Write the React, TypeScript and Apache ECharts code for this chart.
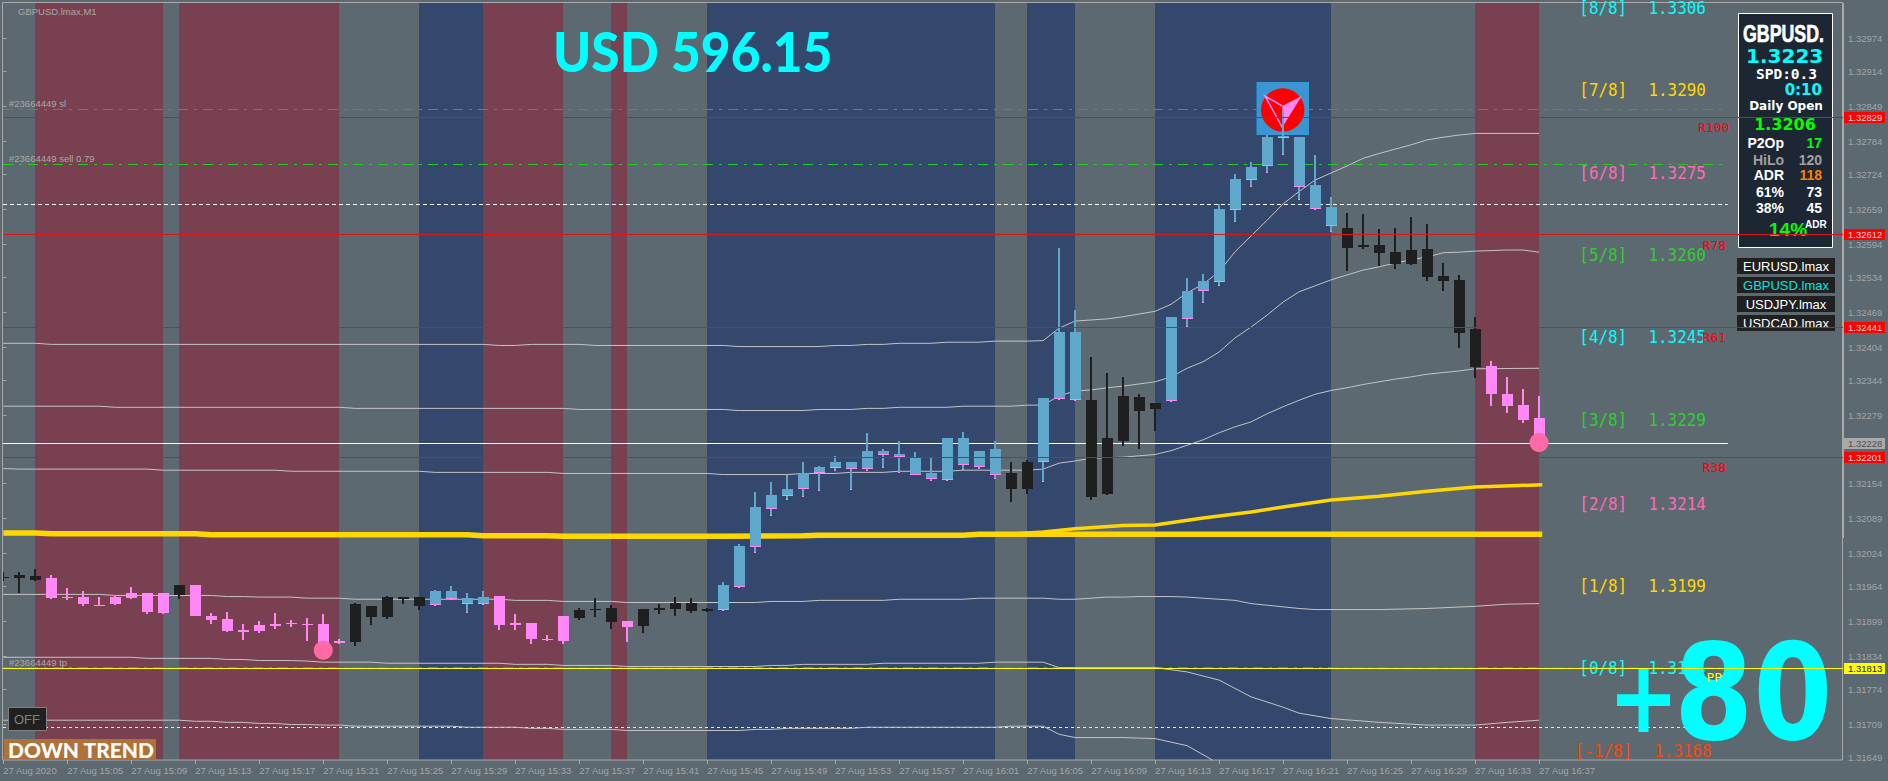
import React, { useEffect, useRef } from "react";
import * as echarts from "echarts";

const PRICE_MIN = 1.316436;
const PRICE_MAX = 1.330395;
const X_MIN = -0.02;
const X_MAX = 115;

const highs = [1.3199,1.3199,1.31995,1.31984,1.3196,1.31955,1.31944,1.31946,1.31962,1.31951,1.31951,1.31966,1.31966,1.31914,1.31916,1.31894,1.31899,1.31914,1.31901,1.31905,1.31912,1.31866,1.31934,1.31927,1.31946,1.31944,1.31944,1.31957,1.31964,1.31951,1.31955,1.31946,1.31912,1.31896,1.31875,1.3191,1.31923,1.31942,1.31929,1.31899,1.31922,1.31931,1.31944,1.31942,1.31923,1.31971,1.32041,1.32137,1.32156,1.32169,1.32194,1.32185,1.32204,1.32193,1.32246,1.32218,1.32231,1.32211,1.322,1.32237,1.32248,1.32213,1.32231,1.32193,1.32196,1.32311,1.32588,1.32473,1.32387,1.32357,1.3235,1.32318,1.32302,1.3246,1.32532,1.3254,1.32669,1.32724,1.32746,1.32796,1.32842,1.32792,1.32759,1.32682,1.32652,1.3265,1.32623,1.32625,1.32645,1.32632,1.3256,1.32538,1.3246,1.32379,1.3235,1.32328,1.32315];
const bodyTops = [1.31981,1.31984,1.31982,1.31979,1.31944,1.31944,1.3193,1.31944,1.31951,1.31951,1.31951,1.31966,1.31966,1.3191,1.31903,1.31883,1.31892,1.31894,1.31896,1.31894,1.31894,1.31863,1.31931,1.31927,1.31944,1.31944,1.31944,1.31955,1.31955,1.31942,1.31944,1.31946,1.31896,1.31896,1.31866,1.31909,1.3192,1.31922,1.31923,1.31899,1.31922,1.31923,1.31933,1.31933,1.31922,1.31966,1.32038,1.3211,1.32132,1.32143,1.32172,1.32183,1.32193,1.32193,1.32213,1.32213,1.32207,1.322,1.32172,1.32237,1.32237,1.32213,1.32217,1.32172,1.32193,1.32311,1.32433,1.32433,1.32307,1.32237,1.32315,1.32313,1.32302,1.3246,1.32508,1.32527,1.3266,1.32715,1.32737,1.32792,1.32794,1.32792,1.32704,1.32663,1.32625,1.32593,1.32593,1.3258,1.32584,1.32586,1.32536,1.32529,1.32438,1.3237,1.32318,1.32298,1.32274];
const bodyBottoms = [1.31979,1.31979,1.31975,1.31942,1.31942,1.31931,1.31929,1.31931,1.31942,1.31916,1.31914,1.31947,1.3191,1.31901,1.31881,1.3188,1.31881,1.3189,1.31894,1.31892,1.31858,1.31859,1.31861,1.31907,1.31907,1.3194,1.31927,1.31929,1.3194,1.31931,1.31931,1.31892,1.31892,1.31866,1.31864,1.31863,1.31905,1.3192,1.31898,1.31888,1.3189,1.3192,1.31922,1.31918,1.31918,1.3192,1.31962,1.32036,1.32106,1.3213,1.32143,1.32172,1.32182,1.3218,1.3218,1.32206,1.32202,1.3217,1.32161,1.32159,1.32187,1.32183,1.3217,1.32143,1.32143,1.32193,1.32309,1.32307,1.32129,1.32134,1.32232,1.32287,1.32291,1.32306,1.32457,1.32508,1.32525,1.32658,1.32713,1.32739,1.32791,1.327,1.3266,1.32628,1.32588,1.3259,1.32579,1.32558,1.32558,1.32534,1.32527,1.32431,1.32368,1.32318,1.32296,1.3227,1.32226];
const lows = [1.31973,1.31951,1.31973,1.31941,1.31939,1.31927,1.31927,1.31929,1.3194,1.31912,1.31912,1.3194,1.31909,1.31894,1.31879,1.31864,1.31877,1.31885,1.31888,1.31863,1.3184,1.31857,1.31853,1.31892,1.31903,1.31931,1.3192,1.31927,1.31938,1.31914,1.31929,1.31883,1.31883,1.31857,1.31863,1.31857,1.31901,1.31907,1.31885,1.31861,1.31877,1.31912,1.31909,1.31914,1.31916,1.31918,1.3196,1.32025,1.32093,1.32123,1.32128,1.32139,1.32176,1.32141,1.32176,1.32182,1.32172,1.32169,1.32158,1.32158,1.32178,1.3218,1.32161,1.32119,1.32135,1.32156,1.32307,1.32306,1.32123,1.32132,1.32223,1.32217,1.3225,1.32304,1.32442,1.32486,1.32518,1.32636,1.327,1.32726,1.32759,1.32676,1.32658,1.32617,1.32545,1.32586,1.32554,1.32549,1.32556,1.32527,1.32508,1.32403,1.32348,1.32296,1.32283,1.32265,1.32224];

const redZones = [[2,10],[11,21],[30,35],[38,39],[92,96]];
const blueZones = [[26,30],[44,62],[64,67],[72,83]];

const lineA = [[0,1.32412],[2,1.32412],[3,1.3241],[30,1.3241],[31,1.32408],[32,1.32408],[33,1.3241],[36,1.3241],[37,1.32408],[45,1.32408],[46,1.32406],[51,1.32406],[52,1.32408],[53,1.32408],[54,1.3241],[55,1.3241],[56,1.32412],[58,1.32412],[59,1.32414],[61,1.32414],[62,1.32416],[64,1.32416],[65,1.32417],[66,1.3244],[67,1.32453],[68,1.32455],[69,1.32457],[70,1.32461],[71,1.32466],[72,1.32471],[73,1.32484],[74,1.32505],[75,1.32521],[76,1.32544],[77,1.32581],[78,1.3261],[79,1.32639],[80,1.32669],[81,1.32692],[82,1.32713],[83,1.32726],[84,1.32739],[85,1.32753],[86,1.32762],[87,1.3277],[88,1.32778],[89,1.32787],[90,1.32792],[91,1.32796],[92,1.32799],[96,1.32799]];
const lineB = [[0,1.32296],[6,1.32296],[7,1.32294],[21,1.32294],[22,1.32292],[35,1.32292],[36,1.3229],[45,1.3229],[46,1.32288],[50,1.32288],[51,1.3229],[53,1.3229],[54,1.32292],[55,1.32292],[56,1.32294],[59,1.32294],[60,1.32296],[63,1.32296],[64,1.32298],[65,1.32298],[66,1.32315],[67,1.32324],[68,1.32326],[69,1.3233],[70,1.32333],[71,1.32337],[72,1.32341],[73,1.3235],[74,1.32366],[75,1.32378],[76,1.32396],[77,1.32422],[78,1.32442],[79,1.32464],[80,1.32488],[81,1.32507],[82,1.32518],[83,1.32529],[84,1.32538],[85,1.32547],[86,1.32553],[87,1.3256],[88,1.32566],[89,1.32571],[90,1.32579],[91,1.3258],[92,1.32582],[94,1.32584],[95,1.32584],[96,1.3258]];
const lineC = [[0,1.32181],[1,1.3218],[9,1.3218],[10,1.32178],[17,1.32178],[18,1.32176],[26,1.32176],[27,1.32174],[34,1.32174],[35,1.32172],[44,1.32172],[45,1.3217],[49,1.3217],[50,1.32172],[52,1.32172],[53,1.32174],[55,1.32174],[56,1.32176],[59,1.32176],[60,1.32178],[64,1.32178],[65,1.3218],[66,1.32191],[67,1.32195],[68,1.322],[70,1.32202],[72,1.32207],[73,1.32214],[74,1.32224],[75,1.32234],[76,1.32247],[77,1.32258],[78,1.32267],[79,1.32282],[80,1.32295],[81,1.32307],[82,1.32318],[83,1.32325],[84,1.3233],[85,1.32336],[86,1.32341],[87,1.32346],[88,1.3235],[89,1.32355],[90,1.32358],[91,1.32361],[92,1.32365],[96,1.32366]];
const lineD = [[0,1.31949],[6,1.31949],[7,1.31947],[13,1.31947],[14,1.31945],[15,1.31945],[16,1.31944],[18,1.31944],[19,1.31942],[21,1.31942],[22,1.3194],[31,1.3194],[32,1.31938],[34,1.31938],[35,1.31936],[38,1.31936],[39,1.31934],[47,1.31934],[48,1.31936],[50,1.31936],[51,1.31938],[55,1.31938],[56,1.3194],[60,1.3194],[61,1.31942],[65,1.31942],[66,1.3194],[67,1.3194],[68,1.31942],[69,1.31944],[70,1.31944],[71,1.31945],[73,1.31945],[74,1.31944],[75,1.31942],[77,1.31938],[78,1.31932],[79,1.31929],[80,1.31926],[81,1.31923],[82,1.31921],[86,1.31921],[89,1.31923],[92,1.31927],[94,1.31931],[96,1.31932]];
const lineE = [[0,1.31833],[8,1.31833],[9,1.31831],[13,1.31831],[14,1.31829],[15,1.31829],[16,1.31827],[18,1.31827],[19,1.31826],[20,1.31824],[23,1.31824],[24,1.31822],[31,1.31822],[32,1.3182],[34,1.3182],[35,1.31818],[38,1.31818],[39,1.31816],[47,1.31816],[48,1.31818],[49,1.31818],[50,1.3182],[54,1.3182],[55,1.31822],[61,1.31822],[62,1.31824],[65,1.31824],[66,1.31814],[72,1.31814],[74,1.31806],[76,1.31791],[78,1.3176],[80,1.31741],[81,1.3173],[83,1.3172],[86,1.31713],[89,1.31708],[92,1.31708],[94,1.31713],[96,1.31717]];
const lineF = [[0,1.31717],[11,1.31717],[12,1.31715],[13,1.31715],[14,1.31713],[15,1.31713],[16,1.31711],[17,1.31711],[18,1.31709],[19,1.31709],[20,1.31708],[21,1.31708],[22,1.31706],[28,1.31706],[29,1.31704],[32,1.31704],[33,1.31702],[34,1.31702],[35,1.317],[38,1.317],[39,1.31698],[46,1.31698],[47,1.317],[48,1.317],[49,1.31702],[53,1.31702],[54,1.31704],[62,1.31704],[63,1.31706],[65,1.31706],[66,1.31691],[67,1.31685],[70,1.31685],[72,1.31683],[74,1.3167],[75.5,1.31645],[76.5,1.3162]];
const maFlat = [[0,1.32062],[2,1.32062],[3,1.32061],[12,1.32061],[13,1.32059],[29,1.32059],[30,1.32057],[34,1.32057],[35,1.32056],[45,1.32056],[50,1.32057],[51,1.32058],[60,1.32058],[61,1.3206],[96.2,1.3206]];
const maRising = [[63,1.3206],[65,1.32064],[67,1.3207],[70,1.32076],[72,1.32077],[75,1.3209],[78,1.32101],[80,1.3211],[83,1.32123],[86,1.3213],[89,1.32139],[92,1.32147],[96.2,1.32151]];
const entryMarkers = [[20,1.31846],[96,1.32229]];

const priceTicks = [1.32974,1.32914,1.32849,1.32784,1.32724,1.32659,1.32594,1.32534,1.32469,1.32404,1.32344,1.32279,1.32154,1.32089,1.32024,1.31964,1.31899,1.31834,1.31774,1.31709,1.31649];
const timeTicks = [0,4,8,12,16,20,24,28,32,36,40,44,48,52,56,60,64,68,72,76,80,84,88,92,96];
const timeLabels = ["27 Aug 2020","27 Aug 15:05","27 Aug 15:09","27 Aug 15:13","27 Aug 15:17","27 Aug 15:21","27 Aug 15:25","27 Aug 15:29","27 Aug 15:33","27 Aug 15:37","27 Aug 15:41","27 Aug 15:45","27 Aug 15:49","27 Aug 15:53","27 Aug 15:57","27 Aug 16:01","27 Aug 16:05","27 Aug 16:09","27 Aug 16:13","27 Aug 16:17","27 Aug 16:21","27 Aug 16:25","27 Aug 16:29","27 Aug 16:33","27 Aug 16:37"];

const backLevelPrices = [1.32843,1.32742,1.32668,1.31815,1.31704,1.32228];
const backLevelEnds = [107.8,107.8,107.8,107.8,107.8,107.8];
const backLevelColors = ["#D9551F","#22CC22","#FFFFFF","#FF4500","#FFFF33","#FFFFFF"];
const backLevelDashes: any[] = [[10,6,3,6],[10,6,3,6],[4,3],[10,6,3,6],[3,3],null];
const frontLevelPrices = [1.32829,1.32612,1.32441,1.32201,1.31813];
const frontLevelColors = ["#D81818","#D81818","#D81818","#D81818","#FFFF00"];

const tagPrices = [1.32829,1.32612,1.32441,1.32228,1.32201,1.31813];
const tagFills = ["#FF0000","#FF0000","#FF0000","#A9A9A9","#FF0000","#FFFF00"];
const tagTexts = ["#D8D8D8","#D8D8D8","#D8D8D8","#505050","#D8D8D8","#202020"];

const fibFractions = ["[8/8]","[7/8]","[6/8]","[5/8]","[4/8]","[3/8]","[2/8]","[1/8]","[0/8]","[-1/8]"];
const fibPrices = ["1.3306","1.3290","1.3275","1.3260","1.3245","1.3229","1.3214","1.3199","1.3184","1.3168"];
const fibColors = ["#00FFFF","#FFD700","#FF69B4","#32CD32","#00FFFF","#32CD32","#FF69B4","#FFD700","#00FFFF","#FF4500"];
const fibRows = [8,89.3,172.3,255,336.7,420,503.3,585.7,667.7,750.7];

const pivotLabels = ["R100","R78","R61","R38","PP"];
const symbolButtons = ["EURUSD.lmax","GBPUSD.lmax","USDJPY.lmax","USDCAD.lmax"];

const GRAY = "#5C6971";
const RED = "#794052";
const BLUE = "#34476D";
const CANDLE_BLUE = "#5FA8CB";
const CANDLE_PINK = "#FF88F6";
const CANDLE_DARK = "#1F1F1F";

const inZones = (zones: number[][], i: number) => zones.some(([a, b]) => i > a && i <= b);

const renderBand = (fill: string) => (_p: any, api: any) => {
  const a = api.coord([api.value(0), PRICE_MAX]);
  const b = api.coord([api.value(1), PRICE_MIN]);
  const x = Math.round(a[0]);
  const y = Math.round(a[1]);
  return { type: "rect", shape: { x, y, width: Math.round(b[0]) - x, height: Math.round(b[1]) - y }, style: { fill } };
};

const renderCandle = (_p: any, api: any) => {
  const i = api.value(0);
  const yOf = (v: number) => Math.round(api.coord([i, v])[1]);
  const cx = Math.round(api.coord([i, api.value(1)])[0]);
  const yH = yOf(api.value(1));
  const yT = yOf(api.value(2));
  const yB = Math.max(yOf(api.value(3)), yT + 1);
  const yL = Math.max(yOf(api.value(4)), yB);
  const rect = (x: number, y: number, width: number, height: number, fill: string) => ({
    type: "rect", shape: { x, y, width, height }, style: { fill },
  });
  const blue = inZones(blueZones, i);
  const color = blue ? CANDLE_BLUE : inZones(redZones, i) ? CANDLE_PINK : CANDLE_DARK;
  const children: any[] = [];
  if (blue) {
    children.push(rect(cx - 1, yL - 1, 2, 1, CANDLE_PINK));
    children.push(rect(cx - 1, yH, 2, Math.max(yL - 1 - yH, 0), color));
    children.push(rect(cx - 5, yT, 11, Math.max(yB - 1 - yT, 1), color));
    children.push(rect(cx - 5, yB - 1, 11, 1, CANDLE_PINK));
  } else {
    children.push(rect(cx - 1, yH, 2, yL - yH, color));
    children.push(rect(cx - 5, yT, 11, yB - yT, color));
  }
  return { type: "group", children };
};

const renderLevel = (colors: string[], dashes: any[] | null) => (p: any, api: any) => {
  const start = api.coord([X_MIN, api.value(1)]);
  const end = api.coord([api.value(0), api.value(1)]);
  const y = Math.floor(start[1]) + 0.5;
  const dash = dashes ? dashes[p.dataIndex] : null;
  return {
    type: "line",
    shape: { x1: start[0], y1: y, x2: end[0], y2: y },
    style: { stroke: colors[p.dataIndex], lineWidth: 1, lineDash: dash || undefined, fill: null },
  };
};

const renderTag = (p: any, api: any) => {
  const c = api.coord([X_MAX, api.value(1)]);
  const y = Math.floor(c[1]) - 5;
  return {
    type: "group",
    children: [
      { type: "rect", shape: { x: 1844, y, width: 41, height: 11 }, style: { fill: tagFills[p.dataIndex] } },
      { type: "text", x: 1848, y: y + 5.5, style: { text: api.value(1).toFixed(5), fill: tagTexts[p.dataIndex], font: "9.5px 'Liberation Sans'", textAlign: "left", textVerticalAlign: "middle" } },
    ],
  };
};

const grayLine = (data: number[][]) => ({
  type: "line", data, symbol: "none", z: 3, silent: true, clip: true,
  lineStyle: { color: "#C4C4C4", width: 1 },
});

const txt = (text: string, x: number, y: number, fill: string, font: string, z: number, extra: any = {}) => {
  const { align, stroke, lineWidth, ...rest } = extra;
  return {
    type: "text", x, y, z, silent: true, ...rest,
    style: {
      text, fill, font, textAlign: align || "left", textVerticalAlign: "middle",
      ...(stroke ? { stroke, lineWidth } : {}),
    },
  };
};

const buildGraphics = () => {
  const els: any[] = [];
  const sans = "'Liberation Sans'";
  const dejavu = "'DejaVu Sans'";
  const mono = "'DejaVu Sans Mono'";
  // frame and thick scale bar
  els.push({ type: "rect", z: 2, silent: true, shape: { x: 2.5, y: 2.5, width: 1840, height: 757.5 }, style: { fill: null, stroke: "#A9A9A9", lineWidth: 1 } });
  els.push({ type: "rect", z: 2, silent: true, shape: { x: 1842, y: 3, width: 2, height: 535 }, style: { fill: "#A9A9A9" } });
  // logo
  els.push({ type: "rect", z: 4, silent: true, shape: { x: 1256, y: 82, width: 53, height: 53 }, style: { fill: "#3A96D2" } });
  els.push({ type: "rect", z: 4, silent: true, shape: { x: 1256, y: 82, width: 1, height: 53 }, style: { fill: "#2E6FB0" } });
  els.push({ type: "circle", z: 4, silent: true, shape: { cx: 1282.7, cy: 110, r: 21.7 }, style: { fill: "#FF0000" } });
  els.push({ type: "polygon", z: 4, silent: true, shape: { points: [[1301.7, 96], [1282.3, 106], [1282.3, 127.3]] }, style: { fill: "#FF88F6" } });
  els.push({ type: "polyline", z: 4, silent: true, shape: { points: [[1282.3, 106], [1265, 96], [1282.3, 127.3]] }, style: { fill: null, stroke: "#FF88F6", lineWidth: 1.5 } });
  // headings
  els.push(txt("GBPUSD.lmax,M1", 18, 11, "#A8A8A8", `9.5px ${sans}`, 6));
  els.push(txt("#23664449 sl", 9, 103, "#A8A8A8", `9.5px ${sans}`, 6));
  els.push(txt("#23664449 sell 0.79", 9, 158.5, "#A8A8A8", `9.5px ${sans}`, 6));
  els.push(txt("#23664449 tp", 9, 662, "#A8A8A8", `9.5px ${sans}`, 6));
  els.push(txt("USD 596.15", 553, 50, "#00FFFF", "900 55px Lato", 6, { scaleX: 0.935 }));
  // fib labels
  fibFractions.forEach((f, k) => {
    const minus = f.startsWith("[-");
    els.push(txt(f, minus ? 1574.7 : 1579.3, fibRows[k], fibColors[k], `17.5px ${mono}`, 6, { scaleX: 0.91 }));
    els.push(txt(fibPrices[k], minus ? 1654 : 1648.4, fibRows[k], fibColors[k], `17.5px ${mono}`, 6, { scaleX: 0.91 }));
  });
  // pivots
  const pivotX = [1698, 1702.6, 1702.6, 1702.6, 1706.5];
  const pivotY = [127, 245, 337, 467, 677.7];
  pivotLabels.forEach((t, k) => {
    els.push(txt(t, pivotX[k], pivotY[k], k === 4 ? "#FFFF00" : "#FF0000", `13px ${mono}`, k === 4 ? 12 : 6));
  });
  els.push(txt("+", 1608, 697, "#00FFFF", `bold 101px ${dejavu}`, 8, { scaleX: 0.84 }));
  els.push(txt("80", 1674, 693, "#00FFFF", `bold 134px ${dejavu}`, 8, { scaleX: 0.85 }));
  // panel
  els.push({ type: "rect", z: 6, silent: true, shape: { x: 1738.5, y: 13.5, width: 94, height: 234 }, style: { fill: "#1C2733", stroke: "#FFFFFF", lineWidth: 1 } });
  els.push(txt("GBPUSD.", 1743, 33.3, "#FFFFFF", `bold 24px ${sans}`, 7, { scaleX: 0.74, stroke: "#FFFFFF", lineWidth: 0.7 }));
  els.push(txt("1.3223", 1784.7, 56, "#00FFFF", `bold 20px ${dejavu}`, 7, { align: "center" }));
  els.push(txt("SPD:0.3", 1786.5, 74, "#FFFFFF", `bold 14.5px ${mono}`, 7, { align: "center" }));
  els.push(txt("0:10", 1822, 90, "#00FFFF", `bold 15px ${dejavu}`, 7, { align: "right" }));
  els.push(txt("Daily Open", 1786, 105.7, "#FFFFFF", `bold 12px ${dejavu}`, 7, { align: "center" }));
  els.push(txt("1.3206", 1785, 124.8, "#00FF00", `bold 16px ${dejavu}`, 7, { align: "center" }));
  const rowY = [143.3, 160, 175, 191.7, 207.7];
  const rowL = ["P2Op", "HiLo", "ADR", "61%", "38%"];
  const rowR = ["17", "120", "118", "73", "45"];
  const rowLC = ["#FFFFFF", "#A0A0A0", "#FFFFFF", "#FFFFFF", "#FFFFFF"];
  const rowRC = ["#00FF00", "#A0A0A0", "#FF7F00", "#FFFFFF", "#FFFFFF"];
  rowY.forEach((y, k) => {
    els.push(txt(rowL[k], 1784, y, rowLC[k], `bold 14px ${sans}`, 7, { align: "right" }));
    els.push(txt(rowR[k], 1822, y, rowRC[k], `bold 14px ${sans}`, 7, { align: "right" }));
  });
  els.push(txt("14%", 1769, 229, "#00FF00", `bold 19px ${sans}`, 7));
  els.push(txt("ADR", 1805, 224, "#FFFFFF", `bold 10px ${sans}`, 7));
  // symbol buttons
  const btnY = [258, 277, 296, 315];
  symbolButtons.forEach((t, k) => {
    els.push({ type: "rect", z: 6, silent: true, shape: { x: 1737, y: btnY[k], width: 98, height: 16 }, style: { fill: "#202020" } });
    els.push(txt(t, 1786, btnY[k] + 8, k === 1 ? "#00E5E5" : "#FFFFFF", `13px ${sans}`, 7, { align: "center" }));
  });
  // badges
  els.push({ type: "rect", z: 7, silent: true, shape: { x: 8.5, y: 707.5, width: 38, height: 23 }, style: { fill: "#202020", stroke: "#808080", lineWidth: 1 } });
  els.push(txt("OFF", 14, 719.5, "#808080", `13px ${sans}`, 8));
  els.push({ type: "rect", z: 7, silent: true, shape: { x: 4, y: 739, width: 152, height: 20 }, style: { fill: "#B07038" } });
  els.push(txt("DOWN TREND", 8, 749.5, "#FFFFFF", "900 21px Lato", 8));
  return els;
};

export default function App() {
  const ref = useRef<HTMLDivElement>(null);
  useEffect(() => {
    document.body.style.margin = "0";
    const chart = echarts.init(ref.current!, undefined, { renderer: "svg" });
    chart.setOption({
      animation: false,
      backgroundColor: GRAY,
      grid: { left: 3, top: 3, width: 1840, height: 757, show: false },
      xAxis: {
        type: "value", min: X_MIN, max: X_MAX, splitLine: { show: false },
        axisLine: { show: false },
        axisTick: { show: true, length: 4, customValues: timeTicks, lineStyle: { color: "#A9A9A9" } },
        axisLabel: {
          customValues: timeTicks, align: "left", margin: 5, color: "#A4A4A4", fontSize: 9.5,
          fontFamily: "Liberation Sans", hideOverlap: false,
          formatter: (v: number) => timeLabels[Math.round(v / 4)],
        },
      },
      yAxis: {
        type: "value", position: "right", min: PRICE_MIN, max: PRICE_MAX, splitLine: { show: false },
        axisLine: { show: false },
        axisTick: { show: true, length: 3, customValues: priceTicks, lineStyle: { color: "#A9A9A9" } },
        axisLabel: {
          customValues: priceTicks, margin: 5, color: "#A4A4A4", fontSize: 9.5,
          fontFamily: "Liberation Sans", hideOverlap: false,
          formatter: (v: number) => v.toFixed(5),
        },
      },
      graphic: { elements: buildGraphics() },
      series: [
        { type: "custom", z: 1, silent: true, renderItem: renderBand(RED), data: redZones, encode: { x: [0, 1] } },
        { type: "custom", z: 1, silent: true, renderItem: renderBand(BLUE), data: blueZones, encode: { x: [0, 1] } },
        {
          type: "custom", z: 3, silent: true,
          renderItem: renderLevel(backLevelColors, backLevelDashes),
          data: backLevelPrices.map((p, k) => [backLevelEnds[k], p]), encode: { x: 0, y: 1 },
        },
        grayLine(lineA), grayLine(lineB), grayLine(lineC), grayLine(lineD), grayLine(lineE), grayLine(lineF),
        { type: "line", data: maFlat, symbol: "none", z: 3, silent: true, lineStyle: { color: "#FFD700", width: 5.5 } },
        { type: "line", data: maRising, symbol: "none", z: 3, silent: true, lineStyle: { color: "#FFD700", width: 3.5 } },
        { type: "scatter", data: entryMarkers, symbol: "circle", symbolSize: 19, z: 5, silent: true, itemStyle: { color: "#FF69A5", opacity: 1 } },
        {
          type: "custom", z: 5, silent: true, clip: true, renderItem: renderCandle,
          data: highs.map((h, i) => [i, h, bodyTops[i], bodyBottoms[i], lows[i]]),
          encode: { x: 0, y: [1, 2, 3, 4] },
        },
        {
          type: "custom", z: 9, silent: true,
          renderItem: renderLevel(frontLevelColors, null),
          data: frontLevelPrices.map((p) => [X_MAX, p]), encode: { x: 0, y: 1 },
        },
        {
          type: "custom", z: 10, silent: true, renderItem: renderTag,
          data: tagPrices.map((p) => [X_MAX, p]), encode: { x: 0, y: 1 },
        },
      ],
    });
    return () => chart.dispose();
  }, []);
  return <div ref={ref} style={{ width: 1888, height: 781, position: "absolute", left: 0, top: 0 }} />;
}
